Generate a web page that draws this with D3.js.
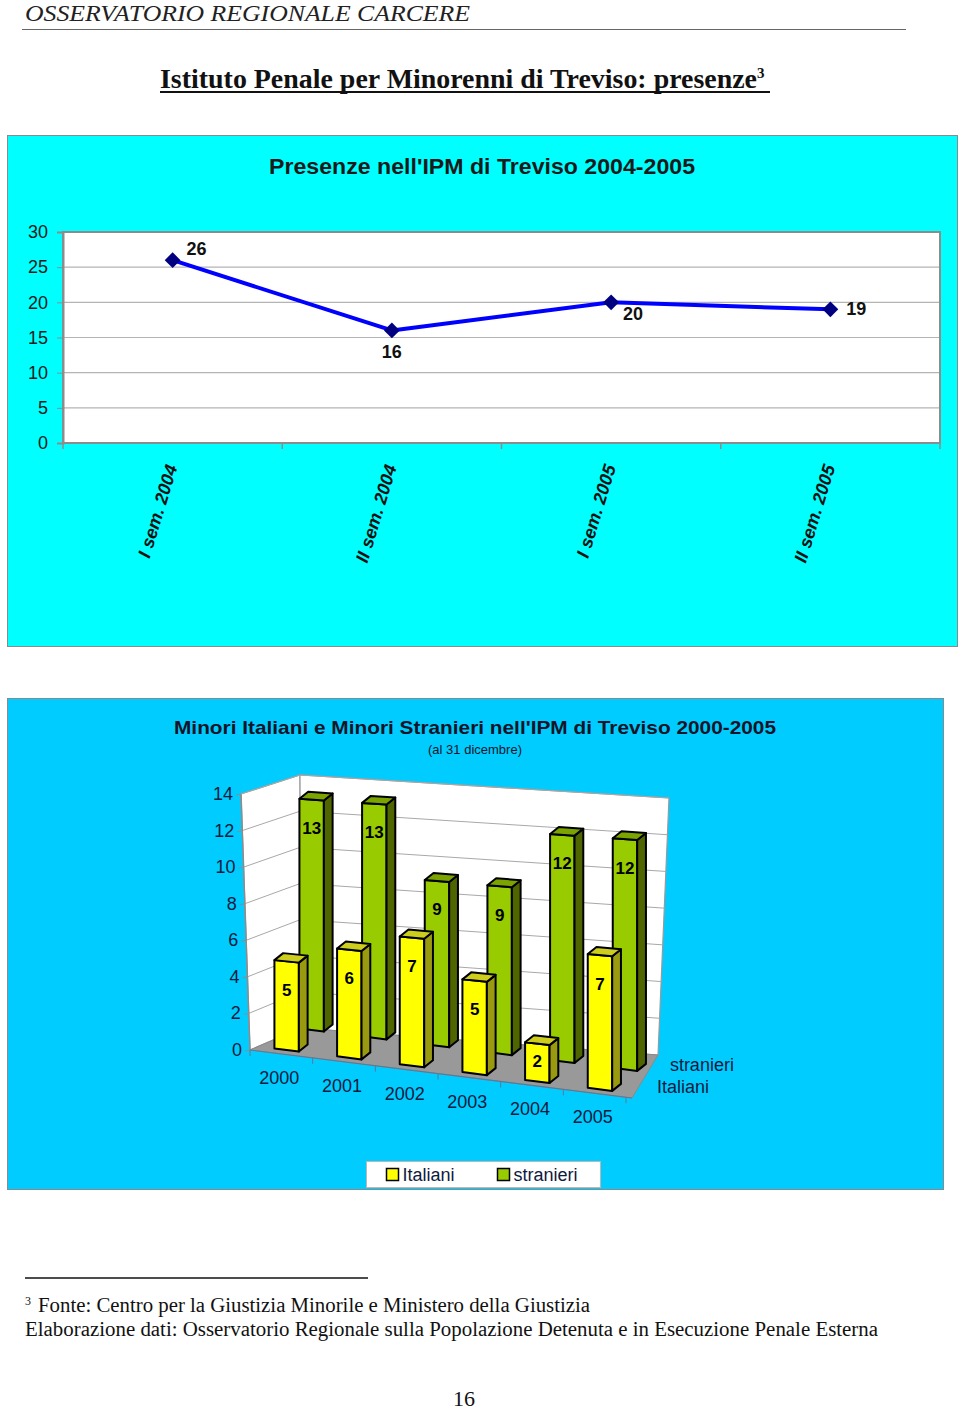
<!DOCTYPE html>
<html>
<head>
<meta charset="utf-8">
<script src="https://cdn.jsdelivr.net/npm/d3@7"></script>
<style>
  body { margin: 0; background: #fff; }
  svg { display: block; }
  .sans { font-family: "Liberation Sans", Arial, sans-serif; }
  .serif { font-family: "Liberation Serif", "Times New Roman", serif; }
</style>
</head>
<body>
<div id="page"></div>
<script>
// --- line chart data
var semestri = ['I sem. 2004', 'II sem. 2004', 'I sem. 2005', 'II sem. 2005'];
var presenze = [26, 16, 20, 19];
var presenzeTicks = [0, 5, 10, 15, 20, 25, 30];

// --- 3d bar chart data
var anni = ['2000', '2001', '2002', '2003', '2004', '2005'];
var italiani = [5, 6, 7, 5, 2, 7];
var stranieri = [13, 13, 9, 9, 12, 12];
var serie = ['Italiani', 'stranieri'];
var barTicks = [0, 2, 4, 6, 8, 10, 12, 14];

var W = 960, H = 1411;
var svg = d3.select('#page').append('svg')
    .attr('width', W)
    .attr('height', H);

// page header
svg.append('text')
    .attr('class', 'serif')
    .attr('x', 25).attr('y', 21)
    .attr('font-size', 24)
    .attr('font-style', 'italic')
    .attr('fill', '#222')
    .attr('textLength', 445)
    .attr('lengthAdjust', 'spacingAndGlyphs')
    .text('OSSERVATORIO REGIONALE CARCERE');
svg.append('line')
    .attr('x1', 22).attr('x2', 906)
    .attr('y1', 29.5).attr('y2', 29.5)
    .attr('stroke', '#666').attr('stroke-width', 1);

var title = svg.append('text')
    .attr('class', 'serif')
    .attr('x', 160).attr('y', 88)
    .attr('font-size', 27)
    .attr('font-weight', 'bold')
    .attr('fill', '#111');
title.append('tspan')
    .attr('textLength', 597)
    .attr('lengthAdjust', 'spacingAndGlyphs')
    .text('Istituto Penale per Minorenni di Treviso: presenze');
title.append('tspan')
    .attr('font-size', 15)
    .attr('dy', -10)
    .text('3');
svg.append('line')
    .attr('x1', 160).attr('x2', 770)
    .attr('y1', 92).attr('y2', 92)
    .attr('stroke', '#111').attr('stroke-width', 2);

// ================= line chart =================
var g1 = svg.append('g').attr('class', 'sans');
g1.append('rect')
    .attr('x', 7.5).attr('y', 135.5)
    .attr('width', 950).attr('height', 511)
    .attr('fill', '#00ffff')
    .attr('stroke', '#8a8a8a');

g1.append('text')
    .attr('x', 482).attr('y', 166)
    .attr('text-anchor', 'middle')
    .attr('dominant-baseline', 'central')
    .attr('font-size', 22)
    .attr('font-weight', 'bold')
    .attr('fill', '#1a1a1a')
    .attr('textLength', 426)
    .attr('lengthAdjust', 'spacingAndGlyphs')
    .text("Presenze nell'IPM di Treviso 2004-2005");

var x1 = d3.scaleBand().domain(semestri).range([63, 940]);
var y1 = d3.scaleLinear().domain([0, 30]).range([443, 232]);

g1.append('rect')
    .attr('x', x1.range()[0]).attr('y', y1(30))
    .attr('width', x1.range()[1] - x1.range()[0])
    .attr('height', y1(0) - y1(30))
    .attr('fill', '#fff');

// horizontal gridlines
g1.selectAll('.grid')
    .data(presenzeTicks.filter(function (d) { return d > 0 && d < 30; }))
    .enter().append('line')
    .attr('x1', x1.range()[0]).attr('x2', x1.range()[1])
    .attr('y1', function (d) { return y1(d); })
    .attr('y2', function (d) { return y1(d); })
    .attr('stroke', '#b4b4b4').attr('stroke-width', 1.2);

g1.append('rect')
    .attr('x', x1.range()[0]).attr('y', y1(30))
    .attr('width', x1.range()[1] - x1.range()[0])
    .attr('height', y1(0) - y1(30))
    .attr('fill', 'none')
    .attr('stroke', '#8c8c8c').attr('stroke-width', 2);

var yAxis1 = g1.append('g')
    .attr('transform', 'translate(' + x1.range()[0] + ',0)')
    .call(d3.axisLeft(y1).tickValues(presenzeTicks).tickSize(6).tickPadding(9));
yAxis1.select('.domain').attr('stroke', '#8c8c8c').attr('stroke-width', 2);
yAxis1.selectAll('.tick line').attr('stroke', '#8c8c8c');
yAxis1.selectAll('.tick text')
    .attr('font-family', '"Liberation Sans", Arial, sans-serif')
    .attr('font-size', 18).attr('fill', '#1a1a1a');

// x axis ticks at category boundaries
var bounds1 = semestri.map(function (d) { return x1(d); }).concat([x1.range()[1]]);
g1.selectAll('.xtick')
    .data(bounds1)
    .enter().append('line')
    .attr('x1', function (d) { return d; }).attr('x2', function (d) { return d; })
    .attr('y1', y1(0)).attr('y2', y1(0) + 6)
    .attr('stroke', '#8c8c8c').attr('stroke-width', 1.5);

g1.selectAll('.xlab')
    .data(semestri)
    .enter().append('text')
    .attr('transform', function (d) {
        return 'translate(' + (x1(d) + x1.bandwidth() / 2 + 5) + ',467) rotate(-73)';
    })
    .attr('text-anchor', 'end')
    .attr('font-size', 18)
    .attr('font-weight', 'bold')
    .attr('font-style', 'italic')
    .attr('fill', '#111')
    .text(function (d) { return d; });

var lineData = semestri.map(function (s, i) { return { s: s, v: presenze[i] }; });
var cx = function (d) { return x1(d.s) + x1.bandwidth() / 2; };
g1.append('path')
    .datum(lineData)
    .attr('fill', 'none')
    .attr('stroke', '#0000ff')
    .attr('stroke-width', 4)
    .attr('stroke-linejoin', 'round')
    .attr('d', d3.line().x(cx).y(function (d) { return y1(d.v); }));

g1.selectAll('.marker')
    .data(lineData)
    .enter().append('path')
    .attr('d', d3.symbol(d3.symbolSquare, 125))
    .attr('transform', function (d) {
        return 'translate(' + cx(d) + ',' + y1(d.v) + ') rotate(45)';
    })
    .attr('fill', '#000080');

// data label offsets (layout only)
var lineLabelOffsets = [[24, -11], [0, 22], [22, 12], [26, 0]];
g1.selectAll('.vlab')
    .data(lineData)
    .enter().append('text')
    .attr('x', function (d, i) { return cx(d) + lineLabelOffsets[i][0]; })
    .attr('y', function (d, i) { return y1(d.v) + lineLabelOffsets[i][1]; })
    .attr('text-anchor', 'middle')
    .attr('dominant-baseline', 'central')
    .attr('font-size', 18)
    .attr('font-weight', 'bold')
    .attr('fill', '#111')
    .text(function (d) { return d.v; });

// ================= 3d bar chart =================
var g2 = svg.append('g').attr('class', 'sans');
g2.append('rect')
    .attr('x', 7.5).attr('y', 698.5)
    .attr('width', 936).attr('height', 491)
    .attr('fill', '#00ccff')
    .attr('stroke', '#8a8a8a');

g2.append('text')
    .attr('x', 475).attr('y', 727)
    .attr('text-anchor', 'middle')
    .attr('dominant-baseline', 'central')
    .attr('font-size', 19)
    .attr('font-weight', 'bold')
    .attr('fill', '#141428')
    .attr('textLength', 602)
    .attr('lengthAdjust', 'spacingAndGlyphs')
    .text("Minori Italiani e Minori Stranieri nell'IPM di Treviso 2000-2005");
g2.append('text')
    .attr('x', 475).attr('y', 749)
    .attr('text-anchor', 'middle')
    .attr('dominant-baseline', 'central')
    .attr('font-size', 13)
    .attr('fill', '#141428')
    .text('(al 31 dicembre)');

// walls frame (perspective corners of the plot box)
var frame = {
    FLB: [250, 1050], FRB: [632, 1098], BLB: [301, 1028], BRB: [658, 1055],
    FLT: [241, 794], BLT: [300, 775], BRT: [669, 798]
};
function lerp(a, b, t) { return [a[0] + (b[0] - a[0]) * t, a[1] + (b[1] - a[1]) * t]; }
var tWall = d3.scaleLinear().domain([0, 14]).range([0, 1]);
var poly = function (pts) { return 'M' + pts.map(function (p) { return p.join(','); }).join('L') + 'Z'; };

g2.append('path')
    .attr('d', poly([frame.FLB, frame.FLT, frame.BLT, frame.BLB]))
    .attr('fill', '#fff').attr('stroke', '#9a9a9a').attr('stroke-width', 1.2);
g2.append('path')
    .attr('d', poly([frame.BLB, frame.BLT, frame.BRT, frame.BRB]))
    .attr('fill', '#fff').attr('stroke', '#9a9a9a').attr('stroke-width', 1.2);

// gridlines on both walls
var gridVals = barTicks.filter(function (d) { return d > 0; });
g2.selectAll('.gridL')
    .data(gridVals)
    .enter().append('path')
    .attr('d', function (d) {
        var t = tWall(d);
        return d3.line()([lerp(frame.FLB, frame.FLT, t), lerp(frame.BLB, frame.BLT, t), lerp(frame.BRB, frame.BRT, t)]);
    })
    .attr('fill', 'none')
    .attr('stroke', '#a8a8a8').attr('stroke-width', 1);

g2.append('path')
    .attr('d', poly([frame.FLB, frame.FRB, frame.BRB, frame.BLB]))
    .attr('fill', '#999999').attr('stroke', '#8a8a8a').attr('stroke-width', 1);

// left value axis
g2.append('line')
    .attr('x1', frame.FLB[0]).attr('y1', frame.FLB[1])
    .attr('x2', frame.FLT[0]).attr('y2', frame.FLT[1])
    .attr('stroke', '#8c8c8c').attr('stroke-width', 1.5);
var leftTicks = g2.selectAll('.ytick')
    .data(barTicks)
    .enter().append('g')
    .attr('transform', function (d) {
        var p = lerp(frame.FLB, frame.FLT, tWall(d));
        return 'translate(' + p[0] + ',' + p[1] + ')';
    });
leftTicks.append('line')
    .attr('x1', -5).attr('x2', 0).attr('y1', 1).attr('y2', 0)
    .attr('stroke', '#8c8c8c');
leftTicks.append('text')
    .attr('x', -8)
    .attr('text-anchor', 'end')
    .attr('dominant-baseline', 'central')
    .attr('font-size', 18)
    .attr('fill', '#0d1b3e')
    .text(function (d) { return d; });

// bar projection: u along categories (px), d depth (rows), h height (px)
// heights grow a little to the right (perspective of the original)
var X0 = frame.FLB[0], Y0 = frame.FLB[1];
var slope = (frame.FRB[1] - frame.FLB[1]) / (frame.FRB[0] - frame.FLB[0]);
var dVec = [25, -20];
var xb = d3.scaleBand().domain(anni).range([0, 376]);
var hb = d3.scaleLinear().domain([0, 14]).range([0, 246]);
function P(u, d, h) {
    var k = 1 + 0.1 * u / xb.range()[1];
    return [X0 + u + d * dVec[0], Y0 + u * slope + d * dVec[1] - h * k];
}

var depth = d3.scaleOrdinal().domain(serie).range([0.2, 1.2]);
var barD = 0.35, bw = xb.bandwidth(), barW = bw * 0.39, barOff = bw * 0.31;

var colors = {
    Italiani: { front: '#ffff00', side: '#9a9a10', top: '#cdcd1e' },
    stranieri: { front: '#99cc00', side: '#4f6600', top: '#7ba400' }
};

// front axis line and ticks
g2.append('line')
    .attr('x1', frame.FLB[0]).attr('y1', frame.FLB[1])
    .attr('x2', frame.FRB[0]).attr('y2', frame.FRB[1])
    .attr('stroke', '#5a7a9a').attr('stroke-width', 1.2);
g2.selectAll('.ftick')
    .data(anni.map(function (a) { return xb(a); }).concat([xb.range()[1]]))
    .enter().append('line')
    .attr('x1', function (u) { return P(u, 0, 0)[0]; })
    .attr('y1', function (u) { return P(u, 0, 0)[1]; })
    .attr('x2', function (u) { return P(u, 0, 0)[0]; })
    .attr('y2', function (u) { return P(u, 0, 0)[1] + 6; })
    .attr('stroke', '#5a7a9a');

var rows = [
    { s: 'stranieri', vals: stranieri },
    { s: 'Italiani', vals: italiani }
];
rows.forEach(function (row) {
    var c = colors[row.s];
    var bars = g2.selectAll('.bar-' + row.s)
        .data(anni.map(function (a, i) { return { a: a, v: row.vals[i], s: row.s }; }))
        .enter().append('g');
    var geo = function (d) {
        var uL = xb(d.a) + barOff, uR = uL + barW, d0 = depth(d.s), d1 = d0 + barD, h = hb(d.v);
        return {
            front: [P(uL, d0, 0), P(uR, d0, 0), P(uR, d0, h), P(uL, d0, h)],
            side: [P(uR, d0, 0), P(uR, d1, 0), P(uR, d1, h), P(uR, d0, h)],
            top: [P(uL, d0, h), P(uR, d0, h), P(uR, d1, h), P(uL, d1, h)],
            lab: P((uL + uR) / 2, d0, h),
            h: h
        };
    };
    ['front', 'side', 'top'].forEach(function (face) {
        bars.append('path')
            .attr('d', function (d) { return poly(geo(d)[face]); })
            .attr('fill', c[face])
            .attr('stroke', '#000')
            .attr('stroke-width', 2)
            .attr('stroke-linejoin', 'round');
    });
    bars.append('text')
        .attr('x', function (d) { return geo(d).lab[0]; })
        .attr('y', function (d) { var g = geo(d); return g.lab[1] + Math.min(29, g.h / 2); })
        .attr('text-anchor', 'middle')
        .attr('dominant-baseline', 'central')
        .attr('font-size', 17)
        .attr('font-weight', 'bold')
        .attr('fill', '#000')
        .text(function (d) { return d.v; });
});

// category labels
g2.selectAll('.catlab')
    .data(anni)
    .enter().append('text')
    .attr('x', function (a) { return P(xb(a) + bw / 2, 0, 0)[0] - 2; })
    .attr('y', function (a) { return P(xb(a) + bw / 2, 0, 0)[1] + 24; })
    .attr('text-anchor', 'middle')
    .attr('dominant-baseline', 'central')
    .attr('font-size', 18)
    .attr('fill', '#0d1b3e')
    .text(function (a) { return a; });

// series (depth) labels on the right
g2.selectAll('.serlab')
    .data(serie)
    .enter().append('text')
    .attr('x', function (s) { return lerp(frame.FRB, frame.BRB, (depth(s) + barD / 2) / 2)[0] + 20; })
    .attr('y', function (s) { return lerp(frame.FRB, frame.BRB, (depth(s) + barD / 2) / 2)[1] - 3; })
    .attr('dominant-baseline', 'central')
    .attr('font-size', 18)
    .attr('fill', '#0d1b3e')
    .text(function (s) { return s; });

// legend
var leg = g2.append('g').attr('transform', 'translate(366.5,1161.5)');
leg.append('rect')
    .attr('width', 234).attr('height', 26)
    .attr('fill', '#fff').attr('stroke', '#b8b8b8');
var legItems = leg.selectAll('.li')
    .data(serie)
    .enter().append('g')
    .attr('transform', function (s, i) { return 'translate(' + (20 + i * 111) + ',0)'; });
legItems.append('rect')
    .attr('x', 0).attr('y', 7)
    .attr('width', 12).attr('height', 12)
    .attr('fill', function (s) { return colors[s].front; })
    .attr('stroke', '#000').attr('stroke-width', 1.5);
legItems.append('text')
    .attr('x', 16).attr('y', 13)
    .attr('dominant-baseline', 'central')
    .attr('font-size', 18)
    .attr('fill', '#0d1b3e')
    .text(function (s) { return s; });

// ================= footnote =================
svg.append('line')
    .attr('x1', 25).attr('x2', 368)
    .attr('y1', 1278).attr('y2', 1278)
    .attr('stroke', '#111').attr('stroke-width', 1.5);
var fn = svg.append('text')
    .attr('class', 'serif')
    .attr('x', 25).attr('y', 1312)
    .attr('font-size', 20)
    .attr('fill', '#111');
fn.append('tspan')
    .attr('font-size', 12).attr('dy', -7)
    .text('3');
fn.append('tspan')
    .attr('x', 38).attr('dy', 7)
    .attr('textLength', 552)
    .attr('lengthAdjust', 'spacingAndGlyphs')
    .text('Fonte: Centro per la Giustizia Minorile e Ministero della Giustizia');
svg.append('text')
    .attr('class', 'serif')
    .attr('x', 25).attr('y', 1336)
    .attr('font-size', 20)
    .attr('fill', '#111')
    .attr('textLength', 853)
    .attr('lengthAdjust', 'spacingAndGlyphs')
    .text('Elaborazione dati: Osservatorio Regionale sulla Popolazione Detenuta e in Esecuzione Penale Esterna');

svg.append('text')
    .attr('class', 'serif')
    .attr('x', 464).attr('y', 1406)
    .attr('text-anchor', 'middle')
    .attr('font-size', 22)
    .attr('fill', '#111')
    .text('16');
</script>
</body>
</html>
